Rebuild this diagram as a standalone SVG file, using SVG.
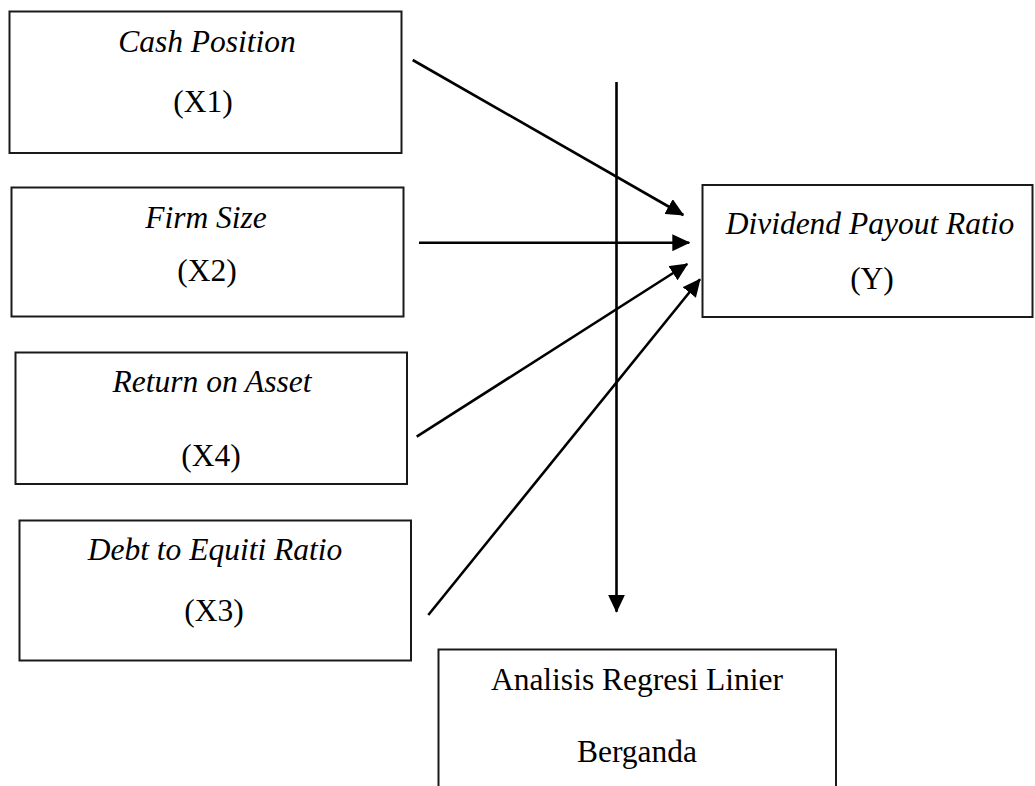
<svg xmlns="http://www.w3.org/2000/svg" width="1035" height="786" viewBox="0 0 1035 786">
<style>
.box{fill:#fff;stroke:#1a1a1a;stroke-width:2}
.t{font-family:"Liberation Serif","Times New Roman",serif;font-size:31.5px;fill:#000;text-anchor:middle}
.i{font-style:italic}
.c{stroke:#000;stroke-width:2.6;fill:none;marker-end:url(#ah)}
</style>
<defs>
<marker id="ah" markerUnits="userSpaceOnUse" markerWidth="18" markerHeight="17" viewBox="0 0 18 17" refX="17" refY="8.5" orient="auto">
<path d="M0,0 L18,8.5 L0,17 Z" fill="#000"/>
</marker>
</defs>
<rect width="1035" height="786" fill="#fff"/>
<g id="x1">
<rect class="box" x="9.5" y="11.5" width="392" height="141.5"/>
<text class="t i" x="207" y="52">Cash Position</text>
<text class="t" x="203" y="112">(X1)</text>
</g>
<g id="x2">
<rect class="box" x="11.5" y="187.5" width="392" height="129"/>
<text class="t i" x="206" y="228">Firm Size</text>
<text class="t" x="207" y="281">(X2)</text>
</g>
<g id="x4">
<rect class="box" x="15.5" y="352.5" width="391.5" height="131.5"/>
<text class="t i" x="212" y="392">Return on Asset</text>
<text class="t" x="211" y="466">(X4)</text>
</g>
<g id="x3">
<rect class="box" x="19.5" y="520.5" width="391.5" height="140"/>
<text class="t i" x="215" y="560">Debt to Equiti Ratio</text>
<text class="t" x="214" y="621">(X3)</text>
</g>
<g id="y">
<rect class="box" x="702.5" y="185" width="330" height="132"/>
<text class="t i" x="870" y="234">Dividend Payout Ratio</text>
<text class="t" x="872" y="289">(Y)</text>
</g>
<g id="analisis">
<rect class="box" x="438.5" y="649.5" width="397.5" height="150"/>
<text class="t" x="637" y="690">Analisis Regresi Linier</text>
<text class="t" x="637" y="762">Berganda</text>
</g>
<g id="connectors">
<line class="c" x1="412.7" y1="60" x2="683.3" y2="215"/>
<line class="c" x1="419" y1="242.7" x2="689.3" y2="242.7"/>
<line class="c" x1="416.7" y1="436.7" x2="687.3" y2="264"/>
<line class="c" x1="428.3" y1="615" x2="700" y2="279.3"/>
<line class="c" x1="616.5" y1="82" x2="616.5" y2="611.7"/>
</g>
</svg>
